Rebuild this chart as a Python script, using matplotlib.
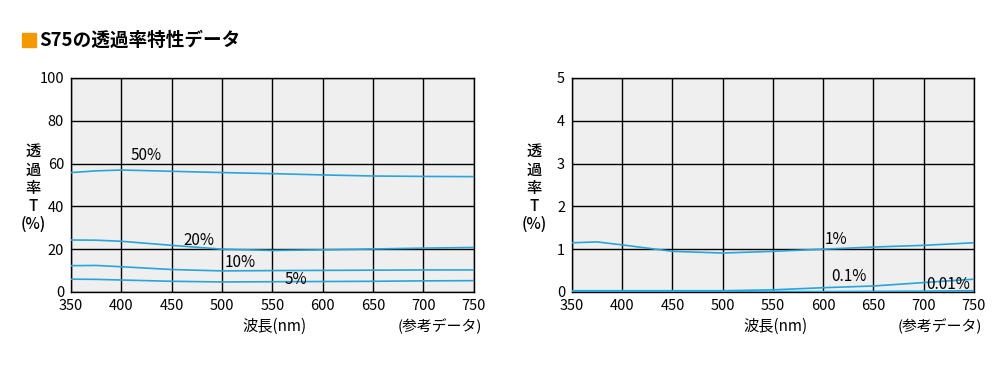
import matplotlib
matplotlib.use("Agg")
import matplotlib.pyplot as plt
from matplotlib.patches import Rectangle

plt.rcParams['font.family'] = ['Noto Sans CJK JP', 'DejaVu Sans']

wl = [350, 375, 400, 450, 500, 550, 600, 650, 700, 750]

# left chart series (%)
t50 = [55.8, 56.6, 57.0, 56.4, 55.8, 55.3, 54.7, 54.2, 54.0, 53.9]
t20 = [24.3, 24.2, 23.7, 21.8, 20.0, 19.4, 19.7, 20.1, 20.5, 20.8]
t10 = [12.3, 12.4, 11.8, 10.5, 9.85, 10.0, 10.1, 10.2, 10.3, 10.3]
t05 = [6.0, 5.9, 5.6, 5.0, 4.7, 4.8, 4.9, 5.0, 5.2, 5.3]

# right chart series (%)
t1 = [1.15, 1.17, 1.10, 0.95, 0.91, 0.95, 1.00, 1.05, 1.09, 1.15]
t01 = [0.03, 0.03, 0.03, 0.03, 0.03, 0.05, 0.10, 0.14, 0.22, 0.30]
t001 = [0.01, 0.01, 0.01, 0.01, 0.01, 0.01, 0.01, 0.015, 0.02, 0.03]

left_labels = [("50%", 425, 64), ("20%", 477, 24), ("10%", 518, 14), ("5%", 573, 6)]
right_labels = [("1%", 613, 1.22), ("0.1%", 626, 0.37), ("0.01%", 724, 0.17)]

title = "S75の透過率特性データ"
ylabel = "透\n過\n率\nT\n(%)"
xlabel = "波長(nm)"
note = "(参考データ)"

color = '#2aa5d9'

fig = plt.figure(figsize=(10.02, 3.87), dpi=100)

def setup(ax, ymax, yticks, series, labels):
    ax.set_facecolor('#efefef')
    ax.set_xlim(350, 750)
    ax.set_ylim(0, ymax)
    ax.set_xticks(range(350, 751, 50))
    ax.set_yticks(yticks)
    ax.grid(True, color='black', linewidth=1.0)
    ax.set_axisbelow(True)
    for s in ax.spines.values():
        s.set_linewidth(1.0)
    ax.tick_params(axis='x', length=0, labelsize=10.5, pad=5)
    ax.tick_params(axis='y', length=0, labelsize=10.5, pad=5)
    for y in series:
        ax.plot(wl, y, color=color, linewidth=1.2, zorder=3)
    for txt, x, y in labels:
        ax.text(x, y, txt, fontsize=11, ha='center', va='center', zorder=4)
    ax.text(-0.095, 0.485, ylabel, transform=ax.transAxes, fontsize=11,
            ha='center', va='center', linespacing=1.1, fontweight='medium')
    ax.text(0.506, -0.16, xlabel, transform=ax.transAxes, fontsize=11,
            ha='center', va='center')
    ax.text(0.916, -0.16, note, transform=ax.transAxes, fontsize=10.7,
            ha='center', va='center')

ax1 = fig.add_axes([0.0709, 0.2455, 0.402, 0.553])
setup(ax1, 100, range(0, 101, 20), [t50, t20, t10, t05], left_labels)

ax2 = fig.add_axes([0.5709, 0.2455, 0.401, 0.553])
setup(ax2, 5, range(0, 6), [t1, t01, t001], right_labels)

fig.patches.append(Rectangle((22 / 1002, 1 - 47 / 387), 14 / 1002, 14 / 387,
                             transform=fig.transFigure, color='#f39800'))
fig.text(39 / 1002, 1 - 40 / 387, title, fontsize=13.4, fontweight='bold',
         ha='left', va='center')

fig.savefig("out.png", dpi=100)
